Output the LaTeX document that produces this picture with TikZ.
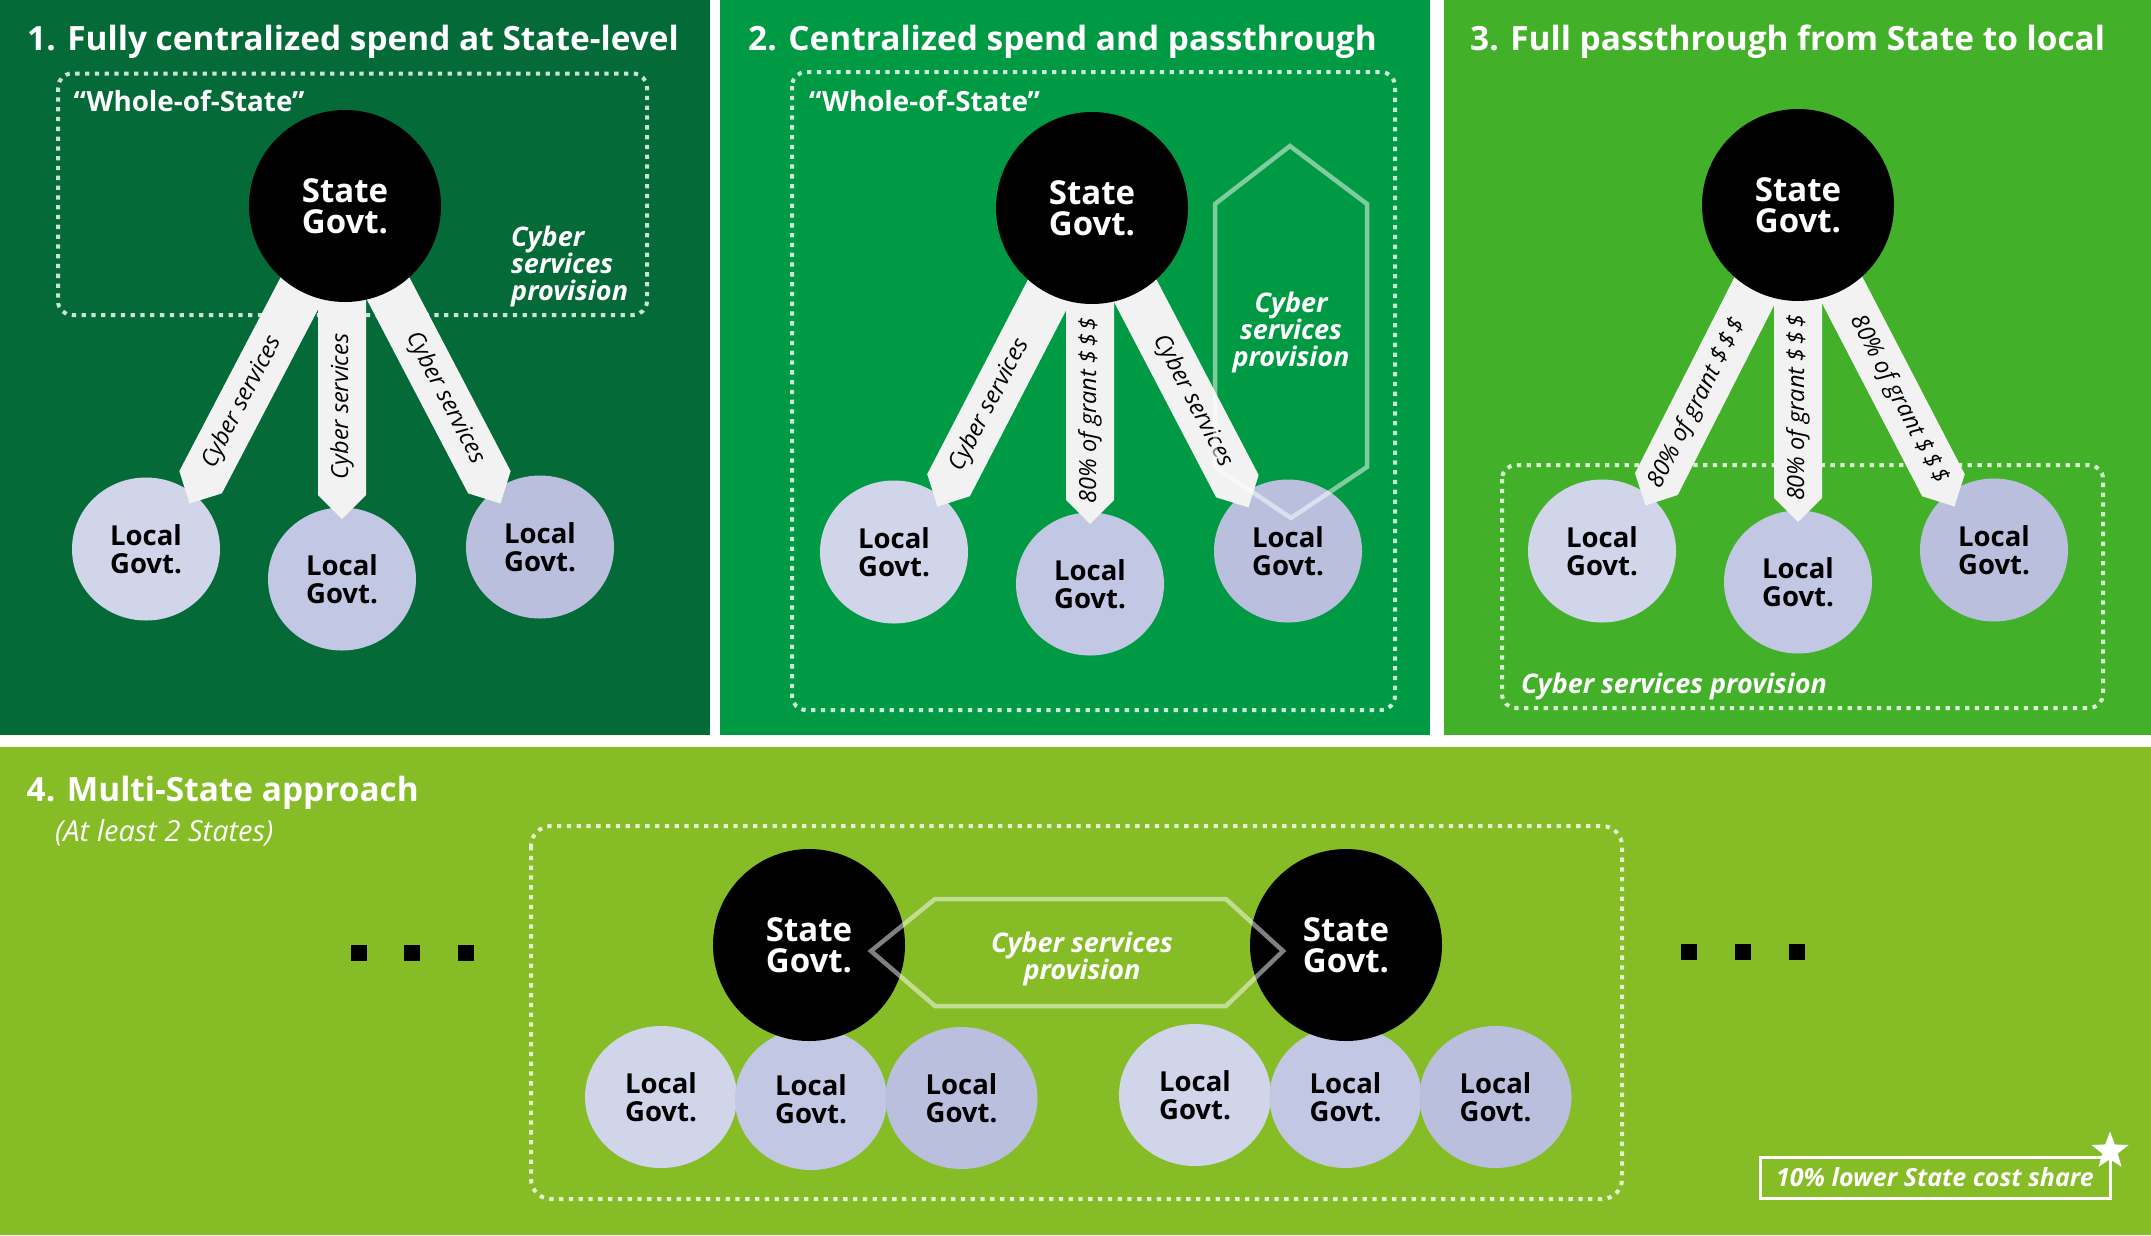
\documentclass[tikz,border=0pt]{standalone}
\usepackage{fontspec}
\setmainfont{Open Sans}
\usetikzlibrary{calc,shapes.geometric}

\definecolor{pone}{HTML}{046A38}
\definecolor{ptwo}{HTML}{009A44}
\definecolor{pthree}{HTML}{43B02A}
\definecolor{pfour}{HTML}{86BC25}
\definecolor{lgA}{HTML}{D0D5EA}
\definecolor{lgB}{HTML}{C2C7E3}
\definecolor{lgC}{HTML}{B9BFDD}
\definecolor{bandgray}{HTML}{F2F2F2}

\tikzset{
  title/.style={anchor=base west, inner sep=0, text=white,
    font=\fontsize{33.4}{40}\selectfont\bfseries},
  subtitle/.style={anchor=base west, inner sep=0, text=white,
    font=\fontsize{29}{32}\selectfont\itshape},
  wos/.style={anchor=base west, inner sep=0, text=white,
    font=\fontsize{27.8}{30}\selectfont\bfseries},
  provtext/.style={inner sep=0, text=white,
    font=\fontsize{27}{27}\selectfont\bfseries\itshape},
  dotbox/.style={draw=white, draw opacity=0.8, line width=4,
    dash pattern=on 4.3pt off 5.5pt},
  statec/.style={circle, fill=black, minimum size=192, inner sep=0,
    text=white, align=center, font=\fontsize{33}{31}\selectfont\bfseries},
  localc/.style={ellipse, minimum width=148, minimum height=143, inner sep=0,
    align=center, text=black, font=\fontsize{27.5}{27.5}\selectfont\bfseries},
  localw/.style={localc, minimum width=152, minimum height=142},
  bandfill/.style={fill=bandgray},
  bandtext/.style={inner sep=0, text=black, sloped,
    font=\fontsize{23.5}{26}\selectfont\itshape},
  hexline/.style={draw=white, draw opacity=0.5, line width=4.5, line join=miter},
  dotsq/.style={rectangle, fill=black, minimum size=16, inner sep=0},
}

% wide arrow band from #1 to a pointed tip at #2
\newcommand\flowband[2]{%
  \coordinate (bandend) at ($(#2)!24pt!(#1)$);
  \fill[bandfill] ($(#1)!24pt!90:(#2)$) -- ($(bandend)!24pt!-90:(#1)$) -- (#2)
    -- ($(bandend)!24pt!90:(#1)$) -- ($(#1)!24pt!-90:(#2)$) -- cycle;}

\begin{document}
\begin{tikzpicture}[x=1pt,y=-1pt]
\useasboundingbox (0,0) rectangle (2151,1235);
\fill[white] (0,0) rectangle (2151,1235);

% panels
\fill[pone]   (0,0)    rectangle (710,735);
\fill[ptwo]   (720,0)  rectangle (1430,735);
\fill[pthree] (1444,0) rectangle (2151,735);
\fill[pfour]  (0,747)  rectangle (2151,1235);

% titles
\node[title] (t1) at (27,50.5) {1. Fully centralized spend at State-level};
\node[title] (t2) at (748,50.5) {2. Centralized spend and passthrough};
\node[title] (t3) at (1470,50.5) {3. Full passthrough from State to local};
\node[title] (t4) at (26.5,801.5) {4. Multi-State approach};
\node[subtitle] (t4s) at (55,841) {(At least 2 States)};

% dotted groupings
\draw[dotbox, rounded corners=14] (58,73.5) rectangle (647,315);
\draw[dotbox, rounded corners=14] (792,72) rectangle (1395,710);
\draw[dotbox, rounded corners=14] (1502,465) rectangle (2103,708);
\draw[dotbox, rounded corners=20] (531,826) rectangle (1622,1199);

\node[wos] (w1) at (73.5,111) {“Whole-of-State”};
\node[wos] (w2) at (809,111) {“Whole-of-State”};

% ---------- panel 1 ----------
\node[localc, fill=lgA] (p1l1) at (146,549) {Local\\Govt.};
\node[localc, fill=lgB] (p1l2) at (342,579) {Local\\Govt.};
\node[localc, fill=lgC] (p1l3) at (540,547) {Local\\Govt.};
\coordinate (p1c) at (345,206);
\coordinate (p1m) at (p1l2 |- p1c);
\coordinate (p1a) at ($(p1l1)+(43.5,-45.5)$);
\coordinate (p1b) at ($(p1l2)+(0,-60)$);
\coordinate (p1d) at ($(p1l3)+(-39.5,-43.5)$);
\flowband{p1c}{p1a}
\flowband{p1m}{p1b}
\flowband{p1c}{p1d}
\path (p1a) -- (p1c) node[bandtext, pos=0.34] (p1x1) {Cyber services};
\path (p1b) -- (p1m) node[bandtext, pos=0.36] (p1x2) {Cyber services};
\path (p1c) -- (p1d) node[bandtext, pos=0.645] (p1x3) {Cyber services};
\node[statec] (p1s) at (p1c) {State\\Govt.};
\node[provtext, anchor=base west] (p1p1) at (511,246) {Cyber};
\node[provtext, anchor=base west] (p1p2) at (511,273) {services};
\node[provtext, anchor=base west] (p1p3) at (511,300) {provision};

% ---------- panel 2 ----------
\node[localc, fill=lgA] (p2l1) at (894,552) {Local\\Govt.};
\node[localc, fill=lgB] (p2l2) at (1090,584) {Local\\Govt.};
\node[localc, fill=lgC] (p2l3) at (1288,551) {Local\\Govt.};
\coordinate (p2c) at (1092,208);
\coordinate (p2m) at (p2l2 |- p2c);
\coordinate (p2a) at ($(p2l1)+(43.5,-45.5)$);
\coordinate (p2b) at ($(p2l2)+(0,-60)$);
\coordinate (p2d) at ($(p2l3)+(-39.5,-43.5)$);
\flowband{p2c}{p2a}
\flowband{p2m}{p2b}
\flowband{p2c}{p2d}
\path (p2a) -- (p2c) node[bandtext, pos=0.34] (p2x1) {Cyber services};
\path (p2b) -- (p2m) node[bandtext, pos=0.36] (p2x2) {80\% of grant \$\,\$\,\$};
\path (p2c) -- (p2d) node[bandtext, pos=0.645] (p2x3) {Cyber services};
\node[statec] (p2s) at (p2c) {State\\Govt.};
\draw[hexline] (1290,146) -- (1367,204) -- (1367,467) -- (1291,518)
  -- (1215,467) -- (1215,204) -- cycle;
\node[provtext, anchor=base] (p2p1) at (1291,312) {Cyber};
\node[provtext, anchor=base] (p2p2) at (1291,339) {services};
\node[provtext, anchor=base] (p2p3) at (1291,366) {provision};

% ---------- panel 3 ----------
\node[localc, fill=lgA] (p3l1) at (1602,551) {Local\\Govt.};
\node[localc, fill=lgB] (p3l2) at (1798,582) {Local\\Govt.};
\node[localc, fill=lgC] (p3l3) at (1994,550) {Local\\Govt.};
\coordinate (p3c) at (1798,205);
\coordinate (p3m) at (p3l2 |- p3c);
\coordinate (p3a) at ($(p3l1)+(43.5,-45.5)$);
\coordinate (p3b) at ($(p3l2)+(0,-60)$);
\coordinate (p3d) at ($(p3l3)+(-39.5,-43.5)$);
\flowband{p3c}{p3a}
\flowband{p3m}{p3b}
\flowband{p3c}{p3d}
\path (p3a) -- (p3c) node[bandtext, pos=0.34] (p3x1) {80\% of grant \$\,\$\,\$};
\path (p3b) -- (p3m) node[bandtext, pos=0.36] (p3x2) {80\% of grant \$\,\$\,\$};
\path (p3c) -- (p3d) node[bandtext, pos=0.645] (p3x3) {80\% of grant \$\,\$\,\$};
\node[statec] (p3s) at (p3c) {State\\Govt.};
\node[provtext, anchor=base west] (p3p) at (1521,693.5) {Cyber services provision};

% ---------- panel 4 ----------
\node[localw, fill=lgA] (q1) at (661,1097) {Local\\Govt.};
\node[localw, fill=lgB] (q2) at (811,1099) {Local\\Govt.};
\node[localw, fill=lgC] (q3) at (961.5,1098) {Local\\Govt.};
\node[localw, fill=lgA] (q4) at (1195,1095) {Local\\Govt.};
\node[localw, fill=lgB] (q5) at (1345.5,1097) {Local\\Govt.};
\node[localw, fill=lgC] (q6) at (1495.5,1097) {Local\\Govt.};
\node[statec] (qa) at (809,945) {State\\Govt.};
\node[statec] (qb) at (1346,945) {State\\Govt.};
\draw[hexline] (871,951) -- (935,899) -- (1226,899) -- (1283,951)
  -- (1226,1006) -- (935,1006) -- cycle;
\node[provtext, anchor=base] (qp1) at (1082,952) {Cyber services};
\node[provtext, anchor=base] (qp2) at (1082,979) {provision};

% ellipsis marks
\node[dotsq] (e1) at (359,953) {};
\node[dotsq] (e2) at (412,953) {};
\node[dotsq] (e3) at (465.5,953) {};
\node[dotsq] (e4) at (1689,952) {};
\node[dotsq] (e5) at (1743,952) {};
\node[dotsq] (e6) at (1797,952) {};

% cost share note
\node[draw=white, line width=3, minimum width=350, minimum height=41, inner sep=0,
  text=white, font=\fontsize{25}{28}\selectfont\bfseries\itshape]
  (share) at (1935,1177.5) {10\% lower State cost share};
\node[star, star points=5, star point ratio=2.4, fill=white, minimum size=39,
  inner sep=0] (starmark) at (2110,1151) {};
\end{tikzpicture}
\end{document}
